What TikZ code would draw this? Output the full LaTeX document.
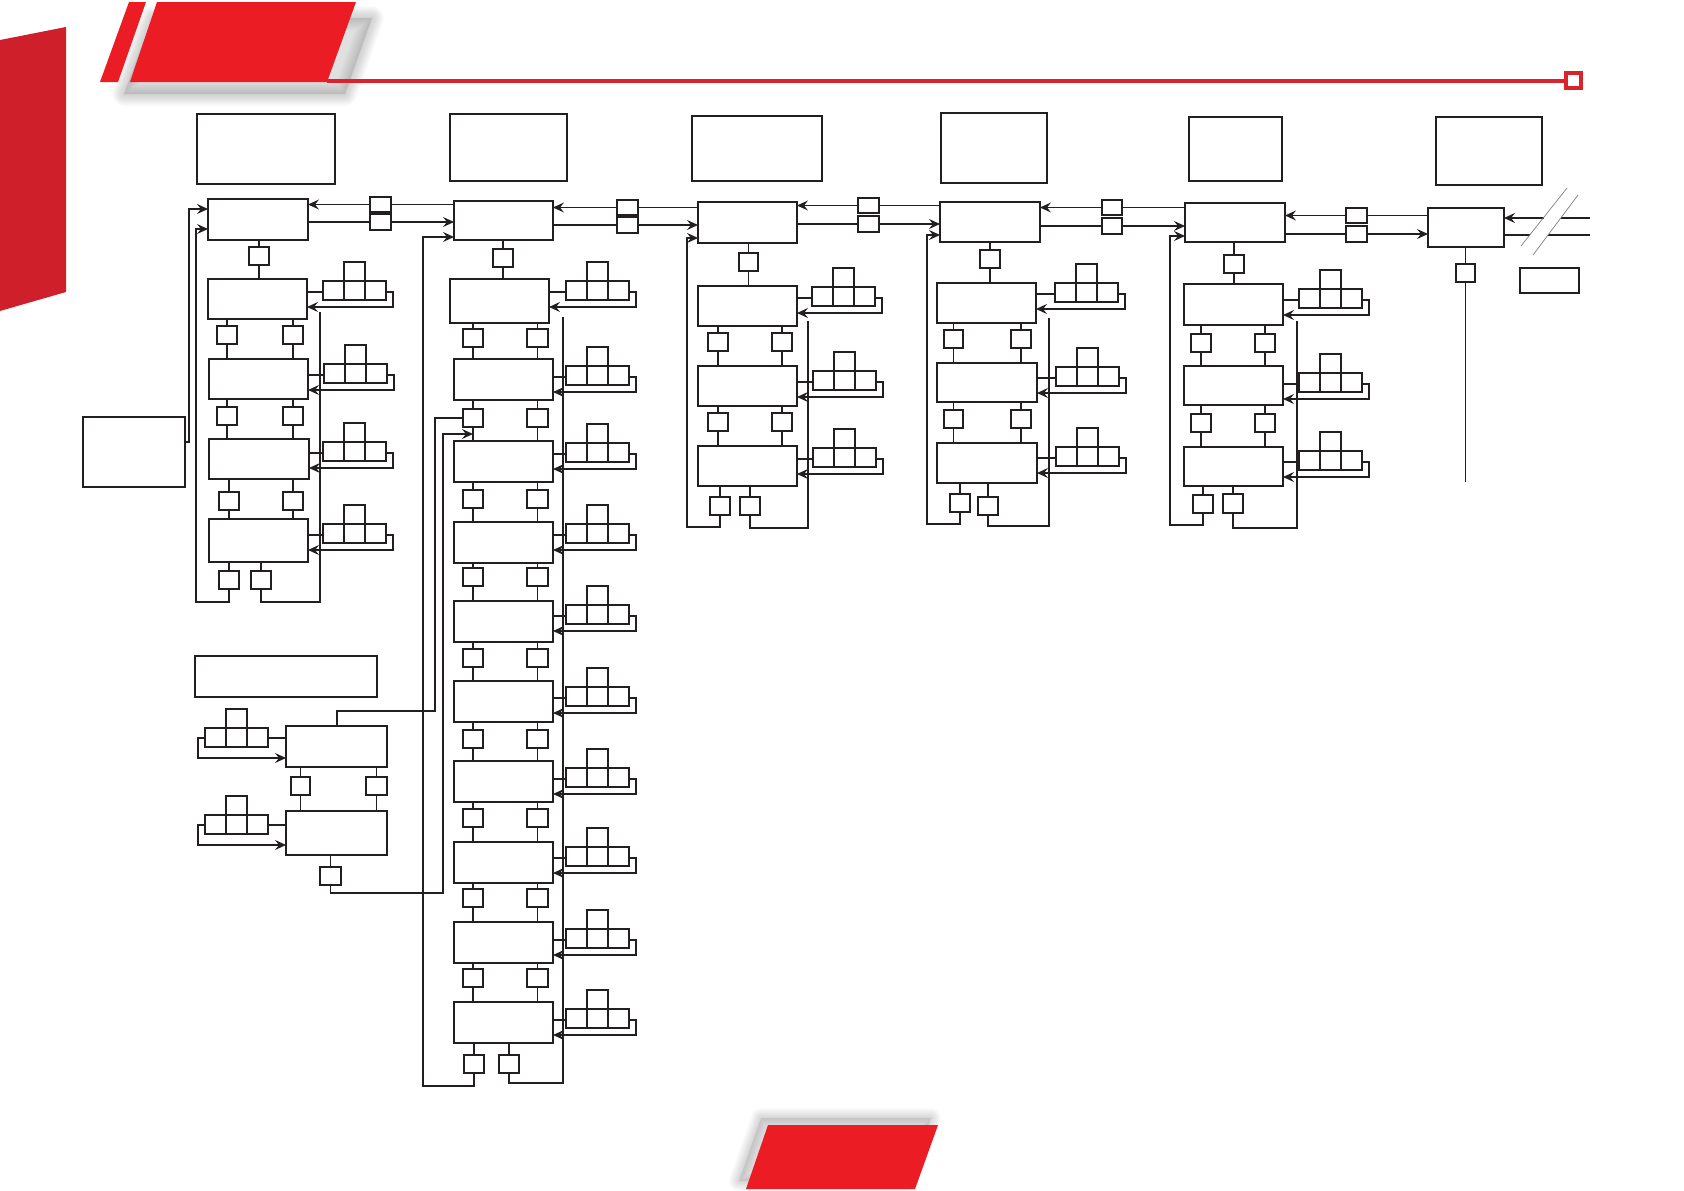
\documentclass[tikz,border=0pt]{standalone}
\usetikzlibrary{arrows.meta}
\definecolor{hred}{HTML}{EC1C24}
\definecolor{bred}{HTML}{CF1F2A}
\definecolor{lred}{HTML}{D9232D}
\definecolor{ink}{HTML}{231F20}
\tikzset{
  bxs/.style={draw=ink, line width=1.2pt, inner sep=0pt, outer sep=0pt, rectangle},
  sbs/.style={bxs, minimum width=21pt, minimum height=19pt},
  ln/.style={draw=ink, line width=1.2pt},
  arr/.style={ln, -{Stealth[length=11pt,width=10pt,inset=4pt]}},
  shd/.style={draw=black, draw opacity=0.016, line join=round},
}
% box by corners
\newcommand\bx[5]{\node[bxs, minimum width={(#4-#2)*1pt}, minimum height={(#5-#3)*1pt}] (#1) at ({(#2+#4)/2},{(#3+#5)/2}) {};}
% key group on right of a box
\newcommand\kr[4]{%
  \node[sbs] (#2-l) at ({#3+10.5},{#4+9.5}) {};
  \node[sbs] (#2-r) at ({#3+52.5},{#4+9.5}) {};
  \node[sbs] (#2-t) at ({#3+31.5},{#4-9.5}) {};
  \node[sbs, line width=1.9pt] (#2-m) at ({#3+31.5},{#4+9.5}) {};
  \coordinate (#2-y1) at (0,{#4+11});
  \coordinate (#2-y2) at (0,{#4+26});
  \draw[ln] (#1.east |- #2-y1) -- (#2-l.west |- #2-y1);
  \draw[arr] (#2-r.east |- #2-y1) -- ++(7,0) |- (#1.east |- #2-y2);
}
% key group on left of a box
\newcommand\kl[4]{%
  \node[sbs] (#2-l) at ({#3+10.5},{#4+9.5}) {};
  \node[sbs] (#2-r) at ({#3+52.5},{#4+9.5}) {};
  \node[sbs] (#2-t) at ({#3+31.5},{#4-9.5}) {};
  \node[sbs, line width=1.9pt] (#2-m) at ({#3+31.5},{#4+9.5}) {};
  \coordinate (#2-y1) at (0,{#4+10});
  \coordinate (#2-y2) at (0,{#4+30});
  \draw[ln] (#2-r.east |- #2-y1) -- (#1.west |- #2-y1);
  \draw[arr] (#2-l.west |- #2-y1) -- ++(-7,0) |- (#1.west |- #2-y2);
}
% vertical link box - small - box
\newcommand\vc[3]{%
  \draw[ln] (#1.south -| #2) -- (#2.north);
  \draw[ln] (#2.south) -- (#3.north -| #2);
}
% horizontal link between columns
\newcommand\lk[7]{%
  \bx{#3u}{#4}{#6}{#5}{#6+15}
  \bx{#3d}{#4}{#7}{#5}{#7+16}
  \draw[ln] (#2.west |- #3u.east) -- (#3u.east);
  \draw[arr] (#3u.west) -- (#1.east |- #3u.west);
  \draw[ln] (#1.east |- #3d.west) -- (#3d.west);
  \draw[arr] (#3d.east) -- (#2.west |- #3d.east);
}
\begin{document}
\begin{tikzpicture}[x=1pt,y=-1pt]
\useasboundingbox (0,0) rectangle (1684,1191);
% ---------- decorations ----------
\fill[bred] (0,40) -- (66,27) -- (66,292) -- (0,311) -- cycle;
% soft shadow of the title band
\fill[black, opacity=0.12, line join=round] (124,94) -- (152,18) -- (372,18) -- (345,94) -- cycle;
\foreach \w in {2,4,...,24}{
  \draw[shd, line width=\w pt] (124,94) -- (152,18) -- (372,18) -- (345,94) -- cycle;
}
\fill[hred] (100,82) -- (129,2) -- (146,2) -- (118,82) -- cycle;
\fill[hred] (130,82) -- (157,2) -- (356,2) -- (327,82) -- cycle;
\draw[lred, line width=3.5pt] (327,81) -- (1564,81);
\draw[lred, line width=3.5pt] (1565.8,72.8) rectangle (1581.2,88.2);
% soft shadow of the bottom band
\fill[black, opacity=0.10, line join=round] (761,1118) -- (931,1118) -- (908,1181) -- (739,1181) -- cycle;
\foreach \w in {2,4,...,20}{
  \draw[shd, line width=\w pt] (761,1118) -- (931,1118) -- (908,1181) -- (739,1181) -- cycle;
}
\fill[hred] (768,1125) -- (938,1125) -- (915,1189) -- (746,1189) -- cycle;

% ---------- column 1 ----------
\bx{h1}{197}{114}{335}{184}
\bx{lb}{83}{417}{185}{487}
\bx{a0}{208}{199}{308}{240}
\bx{a0s}{249}{247}{269}{265}
\bx{a1}{208}{279}{307}{319}
\bx{a1sl}{217}{326}{237}{344}
\bx{a1sr}{283}{326}{303}{344}
\bx{a2}{209}{359}{308}{399}
\bx{a2sl}{217}{407}{237}{425}
\bx{a2sr}{283}{407}{303}{425}
\bx{a3}{209}{439}{309}{479}
\bx{a3sl}{219}{492}{239}{510}
\bx{a3sr}{283}{492}{303}{510}
\bx{a4}{209}{519}{308}{562}
\bx{a4sl}{219}{571}{239}{589}
\bx{a4sr}{251}{571}{271}{589}
\kr{a1}{ka1}{323}{281}
\kr{a2}{ka2}{324}{364}
\kr{a3}{ka3}{323}{442}
\kr{a4}{ka4}{323}{524}
\vc{a0}{a0s}{a1}
\vc{a1}{a1sl}{a2}\vc{a1}{a1sr}{a2}
\vc{a2}{a2sl}{a3}\vc{a2}{a2sr}{a3}
\vc{a3}{a3sl}{a4}\vc{a3}{a3sr}{a4}
\draw[ln] (a4.south -| a4sl) -- (a4sl.north);
\draw[ln] (a4.south -| a4sr) -- (a4sr.north);
\draw[arr] (lb.east |- 0,442) -- (189,442) |- (a0.west |- 0,209);
\draw[arr] (a4sl.south) |- (196,602) |- (a0.west |- 0,229);
\draw[ln] (a4sr.south) |- (320,602) -- (320,312);

% ---------- column 1, lower part ----------
\bx{wb}{195}{656}{377}{697}
\bx{b1}{286}{726}{387}{767}
\bx{b1sl}{291}{777}{310}{795}
\bx{b1sr}{366}{777}{387}{795}
\bx{b2}{286}{811}{387}{855}
\bx{b2s}{320}{867}{341}{885}
\kl{b1}{kb1}{205}{728}
\kl{b2}{kb2}{205}{815}
\vc{b1}{b1sl}{b2}\vc{b1}{b1sr}{b2}
\draw[ln] (b2.south -| b2s) -- (b2s.north);

% ---------- column 2 ----------
\bx{h2}{450}{114}{567}{181}
\bx{c0}{454}{201}{553}{240}
\bx{c0s}{493}{249}{513}{267}
\bx{c1}{450}{279}{549}{323}
\foreach \i/\t in {2/359,3/441,4/522,5/601,6/681,7/761,8/842,9/922,10/1002}{
  \bx{c\i}{454}{\t}{553}{\t+41}
}
\foreach \i/\t in {1/329,2/409,3/490,4/568,5/649,6/730,7/809,8/889,9/969}{
  \bx{c\i-sl}{463}{\t}{483}{\t+18}
  \bx{c\i-sr}{527}{\t}{548}{\t+18}
}
\foreach \i in {1,...,9}{
  \pgfmathtruncatemacro\j{\i+1}
  \vc{c\i}{c\i-sl}{c\j}
  \vc{c\i}{c\i-sr}{c\j}
}
\foreach \i/\r in {1/281,2/366,3/443,4/524,5/605,6/687,7/768,8/847,9/929,10/1009}{
  \kr{c\i}{kc\i}{566}{\r}
}
\vc{c0}{c0s}{c1}
\bx{c10bl}{464}{1055}{484}{1073}
\bx{c10br}{499}{1055}{519}{1073}
\draw[ln] (c10.south -| c10bl) -- (c10bl.north);
\draw[ln] (c10.south -| c10br) -- (c10br.north);
\draw[arr] (c10bl.south) |- (423,1086) |- (c0.west |- 0,237);
\draw[ln] (c10br.south) |- (563,1083) -- (563,317);
% links between lower part and column 2
\draw[ln] (b1.north -| 337,0) |- (435,711) |- (c2-sl.west);
\coordinate (jc) at (c2-sl.south |- 0,434);
\draw[arr] (b2s.south) |- (443,893) |- (jc);

% ---------- column 3 ----------
\bx{h3}{692}{116}{822}{181}
\bx{d0}{698}{202}{797}{243}
\bx{d0s}{739}{253}{758}{271}
\bx{d1}{698}{286}{797}{326}
\bx{d1sl}{708}{333}{728}{351}\bx{d1sr}{772}{333}{792}{351}
\bx{d2}{698}{366}{797}{406}
\bx{d2sl}{708}{413}{728}{431}\bx{d2sr}{772}{413}{792}{431}
\bx{d3}{698}{446}{797}{486}
\bx{d3bl}{710}{497}{730}{515}\bx{d3br}{740}{497}{760}{515}
\kr{d1}{kd1}{812}{287}
\kr{d2}{kd2}{813}{371}
\kr{d3}{kd3}{813}{448}
\vc{d0}{d0s}{d1}
\vc{d1}{d1sl}{d2}\vc{d1}{d1sr}{d2}
\vc{d2}{d2sl}{d3}\vc{d2}{d2sr}{d3}
\draw[ln] (d3.south -| d3bl) -- (d3bl.north);
\draw[ln] (d3.south -| d3br) -- (d3br.north);
\draw[arr] (d3bl.south) |- (687,527) |- (d0.west |- 0,238);
\draw[ln] (d3br.south) |- (808,528) -- (808,321);

% ---------- column 4 ----------
\bx{h4}{941}{113}{1047}{183}
\bx{e0}{940}{202}{1040}{242}
\bx{e0s}{980}{250}{1000}{268}
\bx{e1}{937}{283}{1036}{323}
\bx{e1sl}{944}{330}{963}{348}\bx{e1sr}{1011}{330}{1031}{348}
\bx{e2}{937}{363}{1037}{402}
\bx{e2sl}{944}{410}{963}{428}\bx{e2sr}{1011}{410}{1031}{428}
\bx{e3}{937}{443}{1037}{483}
\bx{e3bl}{950}{494}{970}{512}\bx{e3br}{978}{497}{998}{515}
\kr{e1}{ke1}{1055}{283}
\kr{e2}{ke2}{1056}{367}
\kr{e3}{ke3}{1056}{447}
\vc{e0}{e0s}{e1}
\vc{e1}{e1sl}{e2}\vc{e1}{e1sr}{e2}
\vc{e2}{e2sl}{e3}\vc{e2}{e2sr}{e3}
\draw[ln] (e3.south -| e3bl) -- (e3bl.north);
\draw[ln] (e3.south -| e3br) -- (e3br.north);
\draw[arr] (e3bl.south) |- (927,524) |- (e0.west |- 0,235);
\draw[ln] (e3br.south) |- (1049,526) -- (1049,318);

% ---------- column 5 ----------
\bx{h5}{1189}{117}{1282}{181}
\bx{f0}{1185}{203}{1285}{242}
\bx{f0s}{1224}{255}{1244}{273}
\bx{f1}{1184}{284}{1283}{325}
\bx{f1sl}{1191}{334}{1211}{352}\bx{f1sr}{1255}{334}{1275}{352}
\bx{f2}{1184}{366}{1283}{405}
\bx{f2sl}{1191}{414}{1211}{432}\bx{f2sr}{1255}{414}{1275}{432}
\bx{f3}{1184}{447}{1283}{486}
\bx{f3bl}{1193}{495}{1213}{513}\bx{f3br}{1223}{494}{1243}{513}
\kr{f1}{kf1}{1299}{289}
\kr{f2}{kf2}{1299}{373}
\kr{f3}{kf3}{1299}{451}
\vc{f0}{f0s}{f1}
\vc{f1}{f1sl}{f2}\vc{f1}{f1sr}{f2}
\vc{f2}{f2sl}{f3}\vc{f2}{f2sr}{f3}
\draw[ln] (f3.south -| f3bl) -- (f3bl.north);
\draw[ln] (f3.south -| f3br) -- (f3br.north);
\draw[arr] (f3bl.south) |- (1170,525) |- (f0.west |- 0,236);
\draw[ln] (f3br.south) |- (1297,528) -- (1297,321);

% ---------- column 6 ----------
\bx{h6}{1436}{117}{1542}{185}
\bx{g0}{1428}{208}{1504}{247}
\bx{g0s}{1456}{264}{1475}{282}
\bx{rb}{1520}{268}{1579}{293}
\draw[ln] (g0.south -| g0s) -- (g0s.north);
\coordinate (gend) at (1465.5,482);
\draw[ln] (g0s.south) -- (gend);
\coordinate (ua) at (1544,218); \coordinate (ub) at (1561,218); \coordinate (uc) at (1590,218);
\coordinate (la) at (1530,235); \coordinate (lb2) at (1548,235); \coordinate (lc) at (1590,235);
\draw[arr] (ua) -- (g0.east |- ua);
\draw[ln] (ub) -- (uc);
\draw[ln] (g0.east |- la) -- (la);
\draw[ln] (lb2) -- (lc);
\draw[gray, line width=0.7pt] (1521,246) -- (1567,188);
\draw[gray, line width=0.7pt] (1533,255) -- (1578,195);

% ---------- links between columns ----------
\lk{a0}{c0}{l12}{370}{391}{197}{214}
\lk{c0}{d0}{l23}{617}{638}{200}{217}
\lk{d0}{e0}{l34}{858}{879}{198}{216}
\lk{e0}{f0}{l45}{1102}{1122}{200}{218}
\lk{f0}{g0}{l56}{1346}{1367}{208}{226}
\end{tikzpicture}
\end{document}
